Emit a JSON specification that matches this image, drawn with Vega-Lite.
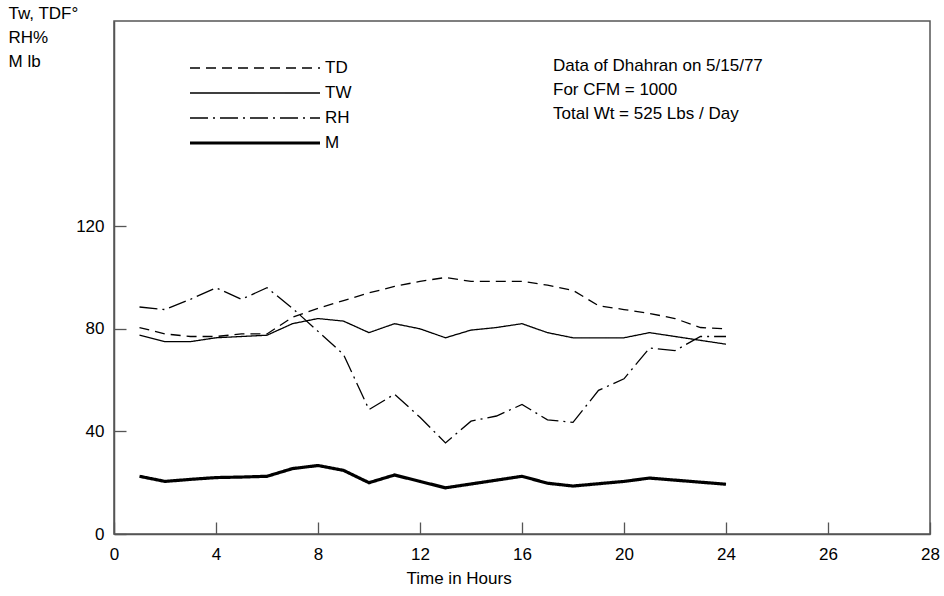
{
  "$schema": "https://vega.github.io/schema/vega-lite/v6.json",
  "width": 816,
  "height": 513,
  "autosize": "none",
  "padding": {"left": 114, "top": 21, "right": 14, "bottom": 62},
  "background": "white",
  "config": {
    "font": "Liberation Sans",
    "view": {"stroke": "#555", "strokeWidth": 1.5},
    "axis": {"grid": false, "domainColor": "#555", "domainWidth": 1.5, "tickColor": "#555", "tickWidth": 1.3, "labelColor": "black", "titleColor": "black", "labelFontSize": 17, "titleFontSize": 17, "titleFontWeight": "normal", "labelFont": "Liberation Sans", "titleFont": "Liberation Sans"}
  },
  "title": {
    "text": ["Data of Dhahran on 5/15/77", "For CFM = 1000", "Total Wt = 525 Lbs / Day"],
    "anchor": "start",
    "frame": "group",
    "baseline": "top",
    "fontSize": 17,
    "fontWeight": "normal",
    "font": "Liberation Sans",
    "lineHeight": 24,
    "dx": 439,
    "dy": 123,
    "color": "black"
  },
  "data": {
    "values": [
      {"h": 1, "TD": 80.5, "TW": 77.5, "RH": 88.5, "M": 22.5},
      {"h": 2, "TD": 78, "TW": 75, "RH": 87.5, "M": 20.5},
      {"h": 3, "TD": 77, "TW": 75, "RH": 91.5, "M": 21.3},
      {"h": 4, "TD": 77, "TW": 76.5, "RH": 96, "M": 22},
      {"h": 5, "TD": 78, "TW": 77, "RH": 91.5, "M": 22.2},
      {"h": 6, "TD": 78, "TW": 77.5, "RH": 96, "M": 22.5},
      {"h": 7, "TD": 84.5, "TW": 82, "RH": 88, "M": 25.5},
      {"h": 8, "TD": 88, "TW": 84, "RH": 79, "M": 26.7},
      {"h": 9, "TD": 91, "TW": 83, "RH": 70, "M": 24.8},
      {"h": 10, "TD": 94, "TW": 78.5, "RH": 48.5, "M": 20},
      {"h": 11, "TD": 96.5, "TW": 82, "RH": 54.5, "M": 23},
      {"h": 12, "TD": 98.5, "TW": 80, "RH": 45.5, "M": 20.5},
      {"h": 13, "TD": 100, "TW": 76.5, "RH": 35.5, "M": 18},
      {"h": 14, "TD": 98.5, "TW": 79.5, "RH": 44, "M": 19.5},
      {"h": 15, "TD": 98.5, "TW": 80.5, "RH": 46, "M": 21},
      {"h": 16, "TD": 98.5, "TW": 82, "RH": 50.5, "M": 22.5},
      {"h": 17, "TD": 97, "TW": 78.5, "RH": 44.5, "M": 19.8},
      {"h": 18, "TD": 95, "TW": 76.5, "RH": 43.5, "M": 18.7},
      {"h": 19, "TD": 89, "TW": 76.5, "RH": 56, "M": 19.6},
      {"h": 20, "TD": 87.5, "TW": 76.5, "RH": 60.5, "M": 20.5},
      {"h": 21, "TD": 86, "TW": 78.5, "RH": 72.5, "M": 21.8},
      {"h": 22, "TD": 84, "TW": 77, "RH": 71.5, "M": 21},
      {"h": 23, "TD": 80.5, "TW": 75.5, "RH": 77, "M": 20.2},
      {"h": 24, "TD": 80, "TW": 74, "RH": 77, "M": 19.4}
    ]
  },
  "transform": [{"fold": ["TD", "TW", "RH", "M"], "as": ["series", "v"]}],
  "mark": {"type": "line", "color": "black", "strokeCap": "butt", "strokeJoin": "miter"},
  "encoding": {
    "x": {
      "field": "h", "type": "quantitative",
      "scale": {"domain": [0, 32], "nice": false},
      "axis": {
        "values": [0, 4, 8, 12, 16, 20, 24, 28, 32],
        "labelExpr": "datum.value == 28 ? '26' : datum.value == 32 ? '28' : datum.label",
        "tickSize": -12, "labelPadding": 24, "labelFlush": false,
        "title": "Time in Hours", "titleAnchor": "start", "titleX": 292, "titleY": 36, "titleBaseline": "top"
      }
    },
    "y": {
      "field": "v", "type": "quantitative",
      "scale": {"domain": [0, 200], "nice": false},
      "axis": {
        "values": [0, 40, 80, 120],
        "tickSize": -12, "labelPadding": 22, "labelFlush": false,
        "title": ["Tw, TDF°", "RH%", "M lb"],
        "titleAngle": 0, "titleAlign": "left", "titleBaseline": "top",
        "titleX": -106, "titleY": -16, "titleLineHeight": 24
      }
    },
    "strokeDash": {
      "field": "series", "type": "nominal",
      "scale": {"domain": ["TD", "TW", "RH", "M"], "range": [[10, 6], [1, 0], [18, 5, 2, 5], [1, 0]]},
      "legend": {
        "orient": "none", "legendX": 76, "legendY": 37, "title": null,
        "symbolType": "stroke", "symbolSize": 16900, "symbolStrokeColor": "black",
        "clipHeight": 20,
        "labelFontSize": 17, "labelFont": "Liberation Sans", "labelColor": "black",
        "rowPadding": 5, "labelOffset": 5,
        "encode": {
          "symbols": {"update": {"x": {"value": 65}, "size": {"value": 16900}, "strokeWidth": {"signal": "datum.value === 'M' ? 3.2 : 1.3"}}},
          "labels": {"update": {"x": {"value": 135}}}
        }
      }
    },
    "strokeWidth": {
      "condition": {"test": "datum.series === 'M'", "value": 3.2},
      "value": 1.3
    }
  }
}
